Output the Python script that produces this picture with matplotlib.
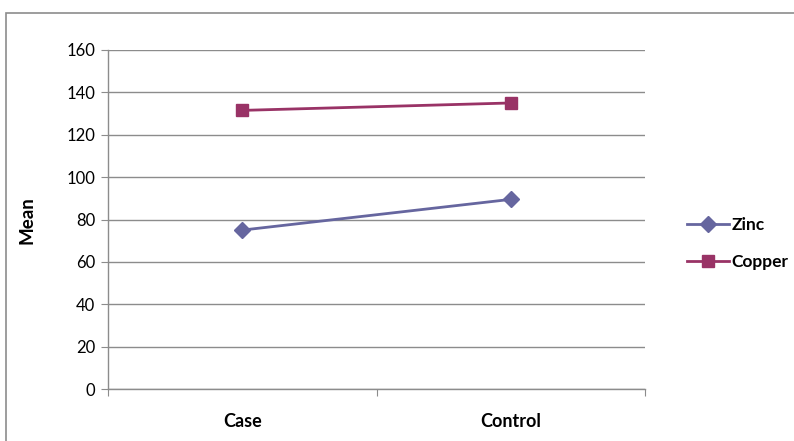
import matplotlib
matplotlib.use("Agg")
import matplotlib.pyplot as plt
from matplotlib.patches import Rectangle

categories = ["Case", "Control"]
zinc = [75, 89.5]
copper = [131.5, 135]
yticks = [0, 20, 40, 60, 80, 100, 120, 140, 160]

plt.rcParams['font.family'] = ['Lato', 'DejaVu Sans']

fig = plt.figure(figsize=(7.94, 4.41), dpi=100)
fig.patches.append(Rectangle((6/794, -0.1), 1.1, 1 - 13/441 + 0.1, transform=fig.transFigure,
                             fill=False, edgecolor='#8c8c8c', linewidth=1.2))
ax = fig.add_axes([108/794, 1 - 389/441, (645 - 108)/794, (389 - 50)/441])

x = list(range(len(categories)))
zc = '#66669F'
cc = '#993366'
ax.plot(x, zinc, color=zc, marker='D', markersize=8, linewidth=2, label='Zinc')
ax.plot(x, copper, color=cc, marker='s', markersize=9, linewidth=2, label='Copper')

ax.set_xlim(-0.5, 1.5)
ax.set_ylim(0, 160)
ax.set_yticks(yticks)
ax.set_yticklabels([str(v) for v in yticks], fontsize=12)
ax.yaxis.grid(True, color='#8c8c8c', linewidth=1)
ax.set_axisbelow(True)
ax.set_xticks([-0.5, 0.5, 1.5])
ax.set_xticklabels([])
ax.set_xticks(x, minor=True)
ax.set_xticklabels(categories, minor=True, fontsize=13, fontweight='bold')
ax.tick_params(axis='x', which='minor', length=0, pad=17)
ax.tick_params(axis='x', which='major', length=5, color='#8c8c8c', direction='out')
ax.tick_params(axis='y', length=5, color='#8c8c8c', direction='out', pad=4)
for s in ['top', 'right']:
    ax.spines[s].set_visible(False)
for s in ['left', 'bottom']:
    ax.spines[s].set_color('#8c8c8c')
    ax.spines[s].set_linewidth(1)

fig.text(27/794, 1 - 220/441, 'Mean', rotation=90, ha='center', va='center',
         fontsize=13.5, fontweight='bold')

leg = fig.legend(loc='center left', bbox_to_anchor=(687/794, 1 - 243.5/441), frameon=False,
                 prop={'size': 12.5, 'weight': 'bold'}, handlelength=2.4, labelspacing=1.2,
                 handletextpad=0.15, borderpad=0, borderaxespad=0)

fig.savefig('out.png', dpi=100)
